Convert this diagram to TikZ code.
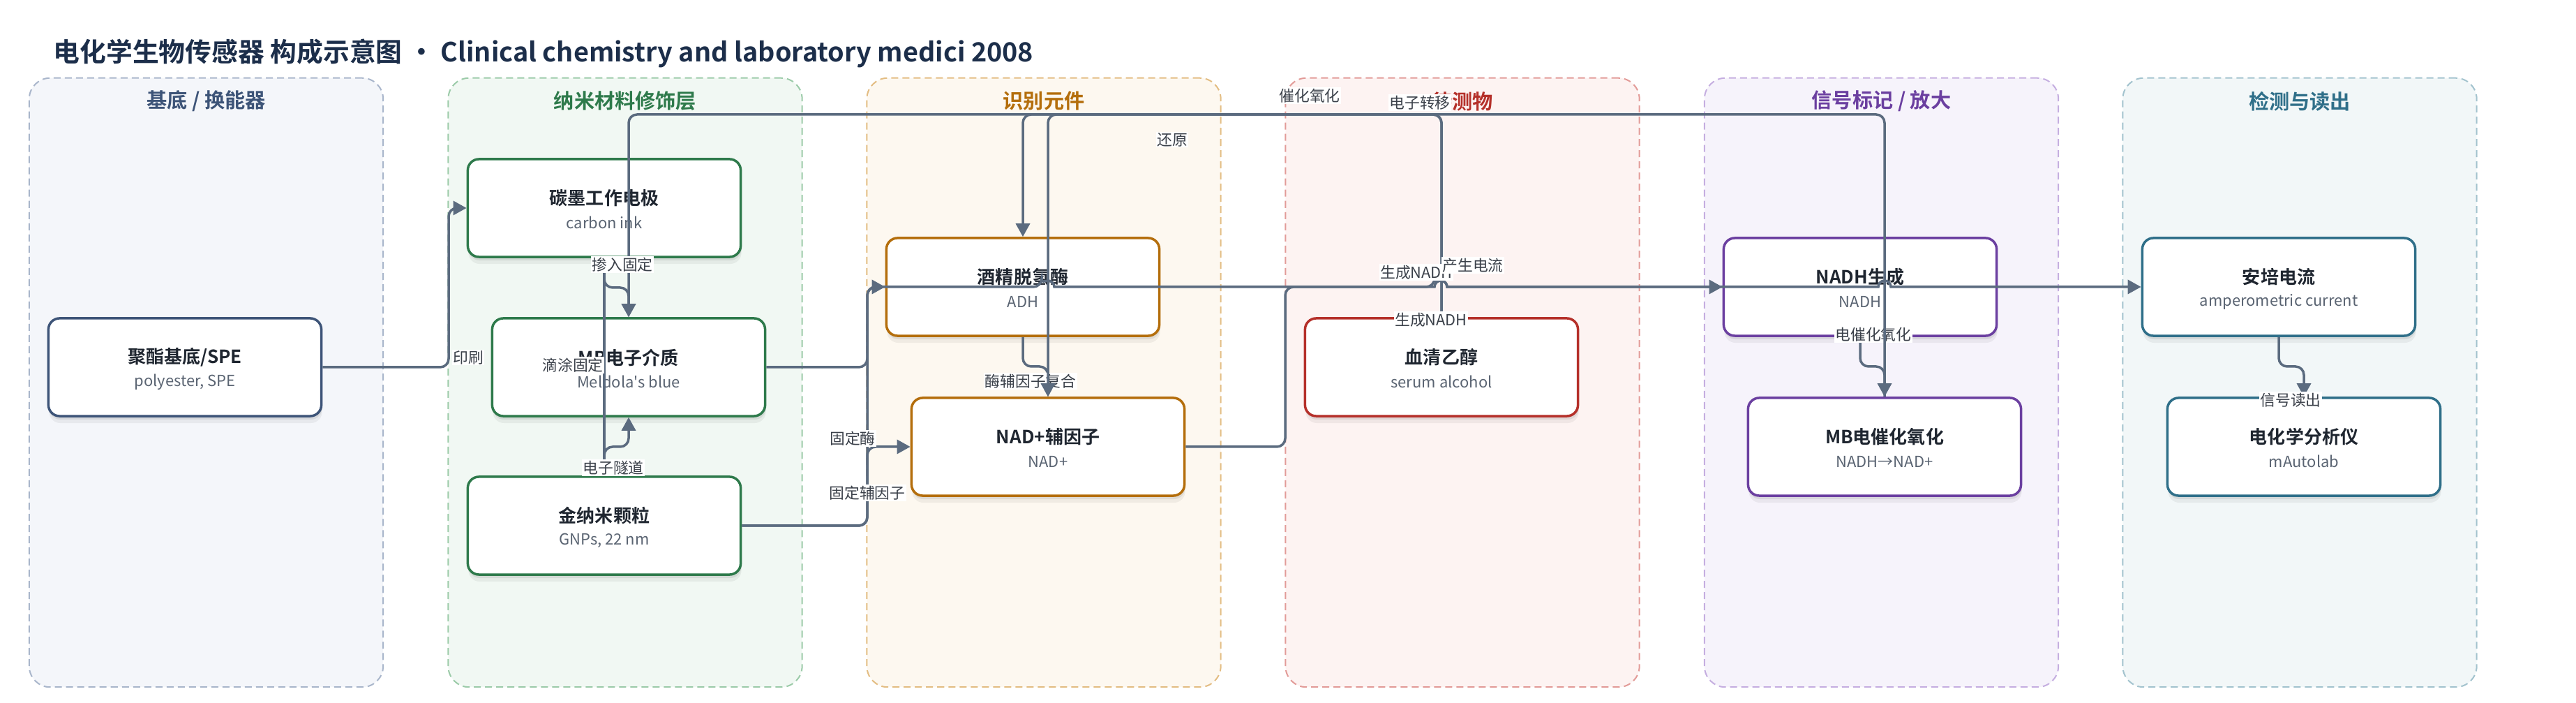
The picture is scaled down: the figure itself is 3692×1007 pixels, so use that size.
\documentclass[tikz,border=0pt]{standalone}
\usepackage{fontspec}
\setmainfont{Noto Sans CJK SC}[BoldFont={Noto Sans CJK SC Bold}, Ligatures=TeXOff]
\usetikzlibrary{arrows.meta,shadows}
\definecolor{edgec}{HTML}{5B6B7F}
\definecolor{titlec}{HTML}{1C2E4A}
\definecolor{ntc}{HTML}{1F2630}
\definecolor{subc}{HTML}{5A6472}
\definecolor{labc}{HTML}{3A4049}
\definecolor{cA}{HTML}{3D5478}\definecolor{fA}{HTML}{F4F6FA}\definecolor{bA}{HTML}{A9B6CB}
\definecolor{cB}{HTML}{2E7A4B}\definecolor{fB}{HTML}{F1F8F3}\definecolor{bB}{HTML}{9CCBA9}
\definecolor{cC}{HTML}{B46E0C}\definecolor{fC}{HTML}{FDF8F0}\definecolor{bC}{HTML}{E3BD83}
\definecolor{cD}{HTML}{B5302A}\definecolor{fD}{HTML}{FDF3F2}\definecolor{bD}{HTML}{E29B98}
\definecolor{cE}{HTML}{6B3FA0}\definecolor{fE}{HTML}{F6F3FB}\definecolor{bE}{HTML}{C5AEE0}
\definecolor{cF}{HTML}{2F6F89}\definecolor{fF}{HTML}{F2F7F8}\definecolor{bF}{HTML}{A3C3CE}
\tikzset{
  panel/.style={line width=0.02cm, dash pattern=on 0.1cm off 0.06cm, rounded corners=0.3cm,
    minimum width=5.07cm, minimum height=8.72cm, inner sep=0pt},
  ptitle/.style={font=\bfseries\fontsize{8.3}{10}\selectfont, inner sep=0pt},
  box/.style={fill=white, line width=0.035cm, rounded corners=0.16cm,
    minimum width=3.91cm, minimum height=1.40cm, inner sep=0pt,
    general shadow={fill=black, opacity=0.05, shadow yshift=-0.10cm, shadow xshift=0.01cm},
    general shadow={fill=black, opacity=0.07, shadow yshift=-0.05cm, shadow xshift=0.01cm}},
  ntitle/.style={font=\bfseries\fontsize{7.4}{9}\selectfont, text=ntc, inner sep=0pt},
  nsub/.style={font=\fontsize{6.25}{8}\selectfont, text=subc, inner sep=0pt},
  lab/.style={fill=white, inner sep=0.015cm, font=\fontsize{6.2}{7.5}\selectfont, text=labc},
  conn/.style={draw=edgec, line width=0.035cm, rounded corners=0.12cm,
    -{Triangle[length=0.19cm,width=0.2cm]}},
}
\newcommand\mybox[6]{%
  \node[box, draw=#4] (#1) at (#2,#3) {};
  \node[ntitle] (#1-t) at ([yshift=0.14cm]#1.center) {#5};
  \node[nsub] (#1-s) at ([yshift=-0.21cm]#1.center) {#6};}
\newcommand\mypanel[6]{%
  \node[panel, draw=#4, fill=#5] (#1) at (#2,548) {};
  \node[ptitle, text=#3] (#1-t) at (#2,145) {#6};}
\begin{document}
\begin{tikzpicture}[x=0.01cm,y=-0.01cm]
\useasboundingbox (0,0) rectangle (3692,1007);
\node[anchor=west, font=\bfseries\fontsize{10.75}{13}\selectfont, text=titlec, inner sep=0pt] (title) at (76,76)
  {电化学生物传感器 构成示意图 · Clinical chemistry and laboratory medici 2008};
% panels
\mypanel{pA}{295.5}{cA}{bA}{fA}{基底 / 换能器}
\mypanel{pB}{896}{cB}{bB}{fB}{纳米材料修饰层}
\mypanel{pC}{1496}{cC}{bC}{fC}{识别元件}
\mypanel{pD}{2096}{cD}{bD}{fD}{待测物}
\mypanel{pE}{2696.5}{cE}{bE}{fE}{信号标记 / 放大}
\mypanel{pF}{3296}{cF}{bF}{fF}{检测与读出}
% nodes
\mybox{spe}{265}{526}{cA}{聚酯基底/SPE}{polyester, SPE}
\mybox{carbon}{866}{298}{cB}{碳墨工作电极}{carbon ink}
\mybox{mb}{901}{526}{cB}{MB电子介质}{Meldola's blue}
\mybox{gnp}{866}{753}{cB}{金纳米颗粒}{GNPs, 22 nm}
\mybox{adh}{1466}{411}{cC}{酒精脱氢酶}{ADH}
\mybox{nad}{1502}{640}{cC}{NAD+辅因子}{NAD+}
\mybox{serum}{2066}{526}{cD}{血清乙醇}{serum alcohol}
\mybox{nadh}{2666}{411}{cE}{NADH生成}{NADH}
\mybox{mbo}{2701}{640}{cE}{MB电催化氧化}{NADH→NAD+}
\mybox{amp}{3266}{411}{cF}{安培电流}{amperometric current}
\mybox{ana}{3302}{640}{cF}{电化学分析仪}{mAutolab}
\coordinate (busY) at (0,164);
% edges, first group
\draw[conn] (spe.east) -- (643,526) -- (643,298) -- (carbon.west);
\draw[conn] (gnp.north) -- (carbon.south);
\draw[conn] (carbon.south) -- (866,412) -- (901,412) -- (mb.north);
\draw[conn] (gnp.north) -- (866,640) -- (901,640) -- (mb.south);
\draw[conn] (mb.east) -- (1243,526) -- (1243,411) -- (1493,411) [sharp corners]
  arc[start angle=180, end angle=0, radius=0.09cm] -- (2056,411)
  arc[start angle=180, end angle=0, radius=0.09cm] -- (2692,411)
  arc[start angle=180, end angle=0, radius=0.09cm] -- (amp.west);
\draw[conn] (gnp.east) -- (1243,753) -- (1243,411) -- (adh.west);
\draw[conn] (gnp.east) -- (1243,753) -- (1243,640) -- (nad.west);
\draw[conn] (adh.south) -- (1466,525) -- (1502,525) -- (nad.north);
\draw[conn] (nad.east) -- (1842,640) -- (1842,411) -- (2056,411) [sharp corners]
  arc[start angle=180, end angle=0, radius=0.09cm] -- (nadh.west);
\draw[conn] (nadh.south) -- (2666,525) -- (2701,525) -- (mbo.north);
\draw[conn] (amp.south) -- (3266,525) -- (3302,525) -- (ana.north);
% labels under later edges
\node[lab] (l-fz) at (1477,546) {酶辅因子复合};
\node[lab] (l-dc) at (2685,479) {电催化氧化};
% edges, second group
\draw[conn] (serum.north) -- (serum.north |- busY) -- (adh.north |- busY) -- (adh.north);
\draw[conn] (serum.north) -- (serum.north |- busY) -- (nad.north |- busY) -- (nad.north);
\draw[conn] (mbo.north) -- (mbo.north |- busY) -- (mb.north |- busY) -- (mb.north);
% labels
\node[lab] (l-ys) at (671,512) {印刷};
\node[lab] (l-cr) at (892,379) {掺入固定};
\node[lab] (l-dt) at (821,523) {滴涂固定};
\node[lab] (l-sd) at (879,670) {电子隧道};
\node[lab] (l-gm) at (1222,628) {固定酶};
\node[lab] (l-gf) at (1243,706) {固定辅因子};
\node[lab] (l-hy) at (1680,200) {还原};
\node[lab] (l-ch) at (1877,137) {催化氧化};
\node[lab] (l-zy) at (2035,147) {电子转移};
\node[lab] (l-n1) at (2030,390) {生成NADH};
\node[lab] (l-cd) at (2111,380) {产生电流};
\node[lab] (l-n2) at (2051,458) {生成NADH};
\node[lab] (l-xd) at (3283,573) {信号读出};
\end{tikzpicture}
\end{document}
